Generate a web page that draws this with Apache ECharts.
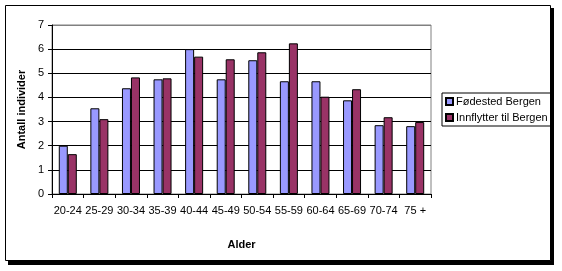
<!DOCTYPE html>
<html><head><meta charset="utf-8">
<script src="https://cdn.jsdelivr.net/npm/echarts@6/dist/echarts.min.js"></script>
<style>html,body{margin:0;padding:0;background:#fff}#c{width:562px;height:271px}</style>
</head><body><div id="c"></div>
<script>
var categories = ['20-24','25-29','30-34','35-39','40-44','45-49','50-54','55-59','60-64','65-69','70-74','75 +'];
var fodested = [2.0, 3.55, 4.38, 4.75, 6.0, 4.75, 5.54, 4.67, 4.67, 3.88, 2.85, 2.81];
var innflytter = [1.65, 3.10, 4.83, 4.79, 5.69, 5.58, 5.87, 6.24, 4.03, 4.34, 3.18, 2.98];
var yTicks = [0,1,2,3,4,5,6,7];

var chart = echarts.init(document.getElementById('c'), null, {renderer:'canvas'});
var font = 'Arial, "Liberation Sans", sans-serif';
chart.setOption({
  animation:false,
  textStyle:{fontFamily:font},
  graphic:[
    {type:'rect', shape:{x:8,y:8,width:546,height:257}, style:{fill:'#000'}, z:-10, silent:true},
    {type:'rect', shape:{x:5.5,y:5.5,width:545,height:255}, style:{fill:'#fff',stroke:'#000',lineWidth:1}, z:-9, silent:true}
  ],
  grid:{left:52, right:131, top:25, bottom:77, show:true, borderColor:'#808080', borderWidth:1, backgroundColor:'transparent'},
  legend:{
    orient:'vertical', left:442, top:93, itemWidth:7, itemHeight:7, itemGap:5,
    borderColor:'#000', borderWidth:1, padding:[3,3,3,3], borderRadius:0,
    textStyle:{fontSize:11, color:'#000', fontFamily:font, padding:[0,0,0,-2]},
    data:[{name:'Fødested Bergen', icon:'rect'},{name:'Innflytter til Bergen', icon:'rect'}]
  },
  xAxis:{
    type:'category', data:categories,
    name:'Alder', nameLocation:'middle', nameGap:45,
    nameTextStyle:{fontSize:11, fontWeight:'bold', color:'#000'},
    axisLine:{lineStyle:{color:'#000'}},
    axisTick:{show:true, length:4, lineStyle:{color:'#000'}},
    axisLabel:{fontSize:11, color:'#000', margin:11, interval:0}
  },
  yAxis:{
    type:'value', min:yTicks[0], max:yTicks[yTicks.length-1], interval:1,
    name:'Antall individer', nameLocation:'middle', nameGap:16,
    nameTextStyle:{fontSize:11, fontWeight:'bold', color:'#000'},
    axisLine:{show:true, lineStyle:{color:'#000'}},
    axisTick:{show:true, length:4, lineStyle:{color:'#000'}},
    axisLabel:{fontSize:11, color:'#000', margin:8},
    splitLine:{show:true, lineStyle:{color:['#000','#000','#000','#000','#000','#000','#000','#808080']}}
  },
  series:[
    {name:'Fødested Bergen', type:'bar', data:fodested, barGap:'0%', barCategoryGap:'43%',
     itemStyle:{color:'#9999FF', borderColor:'#000', borderWidth:1}},
    {name:'Innflytter til Bergen', type:'bar', data:innflytter,
     itemStyle:{color:'#993366', borderColor:'#000', borderWidth:1}}
  ]
});
</script></body></html>
